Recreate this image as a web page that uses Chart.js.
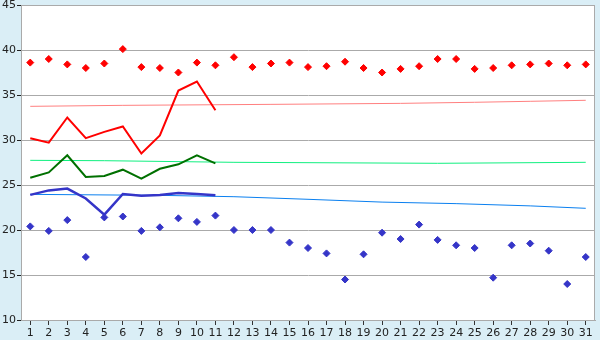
<!DOCTYPE html>
<html>
<head>
<meta charset="utf-8">
<script src="https://cdn.jsdelivr.net/npm/chart.js@4/dist/chart.umd.min.js"></script>
<style>
  html, body { margin: 0; padding: 0; background: #daeef6; }
  #wrap { width: 600px; height: 340px; }
</style>
</head>
<body>
<div id="wrap"><canvas id="chart" width="600" height="340"></canvas></div>
<script>
// 날짜 (1~31)
const days = Array.from({ length: 31 }, (_, i) => String(i + 1));

// 일별 최고 / 최저 (마름모 점)
const maxPoints = [38.6, 39.0, 38.4, 38.0, 38.5, 40.1, 38.1, 38.0, 37.5, 38.6, 38.3,
  39.2, 38.1, 38.5, 38.6, 38.1, 38.2, 38.7, 38.0, 37.5, 37.9, 38.2, 39.0, 39.0,
  37.9, 38.0, 38.3, 38.4, 38.5, 38.3, 38.4];
const minPoints = [20.4, 19.9, 21.1, 17.0, 21.4, 21.5, 19.9, 20.3, 21.3, 20.9, 21.6,
  20.0, 20.0, 20.0, 18.6, 18.0, 17.4, 14.5, 17.3, 19.7, 19.0, 20.6, 18.9, 18.3,
  18.0, 14.7, 18.3, 18.5, 17.7, 14.0, 17.0];

// 이번 달 실측 (11일까지)
const redLine = [30.2, 29.7, 32.5, 30.2, 30.9, 31.5, 28.5, 30.5, 35.5, 36.5, 33.3];
const greenLine = [25.8, 26.4, 28.3, 25.9, 26.0, 26.7, 25.7, 26.8, 27.3, 28.3, 27.4];
const blueLine = [23.9, 24.4, 24.6, 23.5, 21.7, 24.0, 23.8, 23.9, 24.1, 24.0, 23.85];

// 평년 추세선 (읽은 지점만, 나머지는 null로 이어 그림)
const redTrend = [33.74, null, null, null, null, 33.85, null, null, null, null, null, null, null, 33.96,
  null, null, null, null, null, null, 34.07, null, null, null, 34.19, null, null, 34.30, null, null, 34.41];
const greenTrend = [27.74, null, null, null, 27.70, null, null, null, null, null, null, 27.52, null, null,
  null, null, null, null, null, null, null, null, 27.41, null, null, null, null, null, null, null, 27.52];
const blueTrend = [23.96, null, null, null, null, null, null, 23.85, null, null, null, 23.70, null, null,
  null, 23.41, null, null, null, 23.10, null, null, null, 22.93, null, null, null, 22.68, null, null, 22.41];

const yTicks = { min: 10, max: 45, step: 5 };

// 플롯 영역 배경 + 테두리
const plotFrame = {
  id: 'plotFrame',
  beforeDraw(chart) {
    const { ctx, chartArea: a } = chart;
    ctx.save();
    ctx.fillStyle = '#ffffff';
    ctx.fillRect(a.left, a.top, a.right - a.left, a.bottom - a.top);
    ctx.restore();
  },
  afterDraw(chart) {
    const { ctx, chartArea: a } = chart;
    ctx.save();
    ctx.strokeStyle = '#aaaaaa';
    ctx.lineWidth = 1;
    ctx.strokeRect(a.left + 0.5, a.top + 0.5, a.right - a.left - 1, a.bottom - a.top);
    ctx.restore();
  },
};

const markerSet = (data, color) => ({
  data,
  showLine: false,
  pointStyle: 'rectRot',
  pointRadius: 3.5,
  pointBackgroundColor: color,
  pointBorderColor: color,
  pointBorderWidth: 1,
});

const lineSet = (data, color, width) => ({
  data,
  borderColor: color,
  borderWidth: width,
  pointRadius: 0,
  fill: false,
  tension: 0,
  spanGaps: true,
});

new Chart(document.getElementById('chart'), {
  type: 'line',
  data: {
    labels: days,
    datasets: [
      markerSet(maxPoints, '#ff0000'),
      markerSet(minPoints, '#3535c8'),
      lineSet(redLine, '#ff0000', 2),
      lineSet(greenLine, '#007000', 2),
      lineSet(blueLine, '#3535c8', 2.5),
      lineSet(redTrend, '#ff8080', 1),
      lineSet(greenTrend, '#10f080', 1),
      lineSet(blueTrend, '#0a80f0', 1),
    ],
  },
  options: {
    responsive: false,
    animation: false,
    layout: { padding: { left: 0, top: 5, right: 5, bottom: 0 } },
    plugins: { legend: { display: false }, tooltip: { enabled: false } },
    scales: {
      x: {
        offset: true,
        grid: { drawOnChartArea: false, drawTicks: true, tickLength: 5, tickColor: '#333333' },
        border: { color: '#aaaaaa' },
        ticks: { color: '#222222', font: { family: 'DejaVu Sans', size: 11 }, padding: 2, maxRotation: 0, autoSkip: false },
        afterFit(s) { s.height = 20; s.paddingLeft = 0; s.paddingRight = 0; },
      },
      y: {
        min: yTicks.min,
        max: yTicks.max,
        grid: { color: '#aaaaaa', tickColor: '#222222', tickLength: 4 },
        border: { color: '#aaaaaa' },
        ticks: { stepSize: yTicks.step, color: '#222222', font: { family: 'DejaVu Sans', size: 11 }, padding: 1 },
        afterFit(s) { s.width = 21; s.paddingTop = 0; s.paddingBottom = 0; },
      },
    },
  },
  plugins: [plotFrame],
});
</script>
</body>
</html>
